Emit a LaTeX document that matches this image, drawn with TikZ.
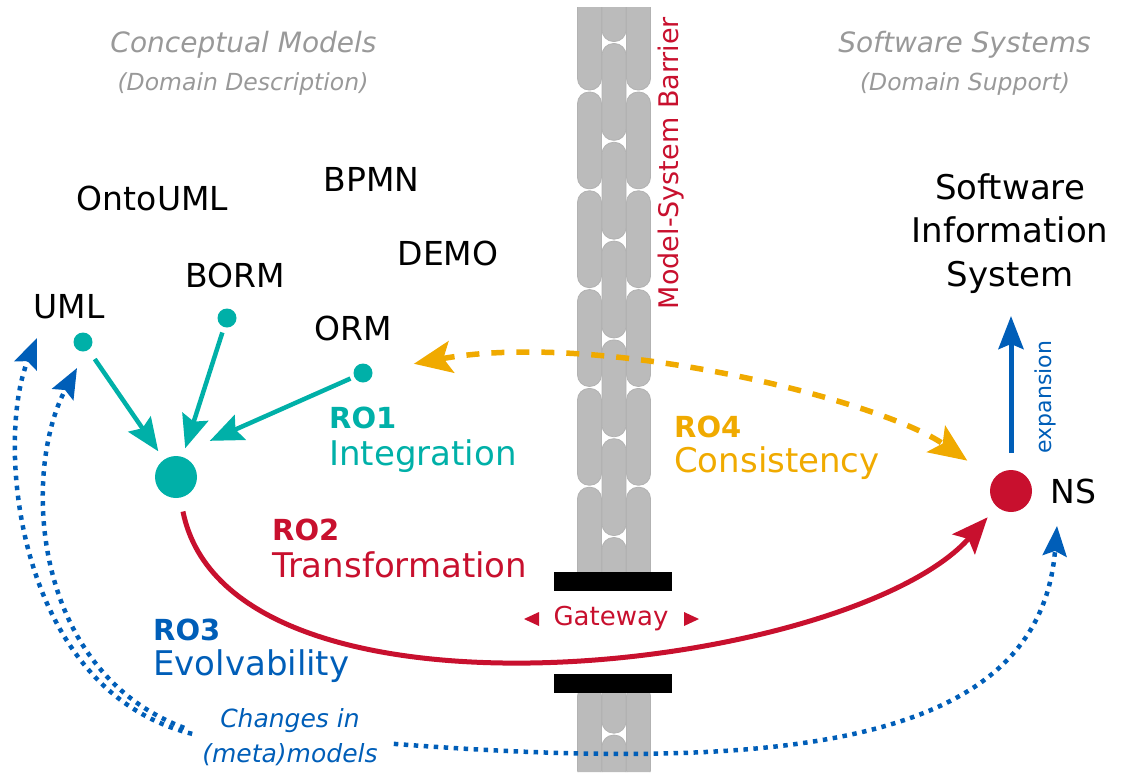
\documentclass[tikz,border=0pt]{standalone}
\usepackage{fontspec}
\setmainfont{DejaVu Sans}
\usetikzlibrary{arrows.meta,calc}
\definecolor{cteal}{HTML}{00B0A8}
\definecolor{cred}{HTML}{C8102E}
\definecolor{corange}{HTML}{F0AA00}
\definecolor{cblue}{HTML}{005EB8}
\definecolor{cgray}{HTML}{999999}
\definecolor{cbar}{HTML}{BBBBBB}
\definecolor{cbaredge}{HTML}{B2B2B2}
\newcommand\fsz[1]{\fontsize{#1pt}{#1pt}\selectfont}
\begin{document}
\begin{tikzpicture}[x=1pt,y=-1pt,
  pill/.style={fill=cbar,draw=cbaredge,line width=0.8pt,rounded corners=11.5pt},
  lbl/.style={font=\fsz{33},inner sep=0pt,anchor=base},
  ttl/.style={font=\itshape\fsz{28},text=cgray,inner sep=0pt,anchor=base},
  subttl/.style={font=\itshape\fsz{23.5},text=cgray,inner sep=0pt,anchor=base},
  robold/.style={font=\bfseries\fsz{29},inner sep=0pt,anchor=base west},
  rotext/.style={font=\fsz{34},inner sep=0pt,anchor=base west},
  smalldot/.style={circle,fill=cteal,inner sep=0pt,minimum size=19pt},
  bigdot/.style={circle,inner sep=0pt,minimum size=42pt},
  tealarrow/.style={draw=cteal,line width=4.5pt,-{Stealth[length=33pt,width=27pt,inset=5pt]}},
  redarrow/.style={draw=cred,line width=5pt,-{Stealth[length=36pt,width=30pt,inset=7pt]}},
  orangearrow/.style={draw=corange,line width=5.5pt,dash pattern=on 13pt off 12pt,
     {Stealth[length=38pt,width=32pt,inset=8pt]}-{Stealth[length=38pt,width=32pt,inset=8pt]}},
  bluearrow/.style={draw=cblue,line width=5pt,-{Stealth[length=33pt,width=25pt,inset=5pt]}},
  bluedots/.style={draw=cblue,line width=4.5pt,dash pattern=on 4.5pt off 5.5pt,
     -{Stealth[length=30pt,width=24pt,inset=5pt]}}
]
\useasboundingbox (0,0) rectangle (1121,772);

% ---------- barrier ----------
\begin{scope}
\clip (577,7) rectangle (651,572) (577,693) rectangle (651,772);
\foreach \k in {0,...,7} {
  \path[pill] (577.5,{91+98.8*(\k-1)+1}) rectangle (601.5,{91+98.8*\k-1});
  \path[pill] (626.5,{91+98.8*(\k-1)+1}) rectangle (650.5,{91+98.8*\k-1});
}
\foreach \j in {0,...,8} {
  \path[pill] (602,{42.5+98.8*(\j-1)+1}) rectangle (626,{42.5+98.8*\j-1});
}
\end{scope}
\fill[black] (554,572) rectangle (672,591);
\fill[black] (554,674) rectangle (672,693);

% ---------- titles ----------
\node[ttl] (cm) at (243.5,52) {Conceptual Models};
\node[subttl] (dd) at (243,90) {(Domain Description)};
\node[ttl] (ss) at (964.5,52) {Software Systems};
\node[subttl] (ds) at (965,90) {(Domain Support)};

% ---------- barrier labels ----------
\node[font=\fsz{27},text=cred,inner sep=0pt,anchor=base,rotate=90] (msb) at (678,163) {Model-System Barrier};
\node[font=\fsz{26},text=cred,inner sep=0pt,anchor=base] (gw) at (611,625) {Gateway};
\fill[cred] (524,619) -- (539,612) -- (539,626) -- cycle;
\fill[cred] (699,619) -- (684,612) -- (684,626) -- cycle;

% ---------- language labels ----------
\node[lbl] (onto) at (152.5,210) {OntoUML};
\node[lbl] (bpmn) at (371.5,191) {BPMN};
\node[lbl] (demo) at (448,265) {DEMO};
\node[lbl] (borm) at (235,287) {BORM};
\node[lbl] (uml) at (69,318) {UML};
\node[lbl] (orm) at (353,340) {ORM};

% ---------- dots ----------
\node[smalldot] (umld) at (83,342) {};
\node[smalldot] (bormd) at (227,318) {};
\node[smalldot] (ormd) at (363,373) {};
\node[bigdot,fill=cteal] (intd) at (176,477) {};
\node[bigdot,fill=cred] (ns) at (1011,491) {};
\node[lbl] (nsl) at (1073.5,503) {NS};

\node[font={\fontsize{34pt}{43.5pt}\selectfont},align=center,inner sep=0pt,anchor=north] (sis) at (1010,173) {Software\\Information\\System};

% ---------- teal arrows ----------
\draw[tealarrow,shorten <=11pt,shorten >=10pt] (umld) -- (intd);
\draw[tealarrow,shorten <=5.5pt,shorten >=9pt] (bormd) -- (intd);
\draw[tealarrow,shorten <=4pt,shorten >=37pt] (ormd) -- (intd.north);

% ---------- expansion ----------
\coordinate (exptip) at (1011,316);
\draw[bluearrow,shorten <=17pt] (ns) -- (exptip);
\node[font=\fsz{22},text=cblue,inner sep=0pt,anchor=base,rotate=90] (exp) at (1051,397) {expansion};

% ---------- RO4 consistency ----------
\draw[orangearrow,shorten <=42pt,shorten >=32pt] (ormd) .. controls (600,330) and (880,400) .. (ns);

% ---------- RO2 transformation ----------
\draw[redarrow,shorten <=14pt,shorten >=14pt] (intd) .. controls (230,745) and (850,672) .. (ns);

% ---------- RO3 evolvability ----------
\node[font={\itshape\fontsize{25pt}{35pt}\selectfont},text=cblue,align=center,inner sep=0pt,anchor=north] (chg) at (290,708) {Changes in\\(meta)models};
\coordinate (tipa) at (37,338);
\coordinate (tipb) at (77,368);
\coordinate (tipc) at (1057,526);
\draw[bluedots] ($(chg.west)+(-10,-3)$) .. controls (15,690) and (-5,440) .. (tipa);
\draw[bluedots] ($(chg.west)+(-18,-9)$) .. controls (30,670) and (22,470) .. (tipb);
\draw[bluedots] ($(chg.east)+(16,7)$) .. controls (800,775) and (1040,740) .. (tipc);

% ---------- RO labels ----------
\node[robold,text=cteal] (ro1) at (329,428) {RO1};
\node[rotext,text=cteal] (ro1t) at (329,465) {Integration};
\node[robold,text=corange] (ro4) at (674,437) {RO4};
\node[rotext,text=corange] (ro4t) at (674,472) {Consistency};
\node[robold,text=cred] (ro2) at (272,540) {RO2};
\node[rotext,text=cred] (ro2t) at (272,577) {Transformation};
\node[robold,text=cblue] (ro3) at (153,640) {RO3};
\node[rotext,text=cblue] (ro3t) at (153,675) {Evolvability};
\end{tikzpicture}
\end{document}
